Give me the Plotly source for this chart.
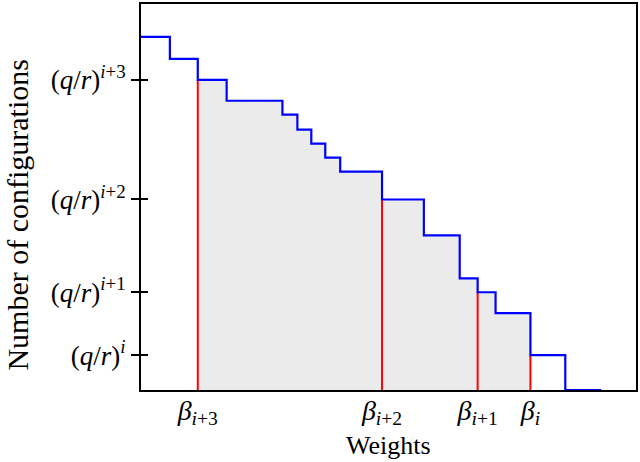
import plotly.graph_objects as go

# Step function: edges along the weight axis and the level on each interval
step_x = [0, 29, 57, 86, 142, 157, 171, 185, 200, 242, 284, 320, 338, 356, 391, 426, 462]
step_y = [354, 332, 311, 290, 276, 261, 247, 233, 219, 191, 155, 112, 98, 77, 35, 0, 0]

# Threshold weights (beta) and the count levels (q/r)^k at those weights
beta_x = [57, 242, 338, 391]
beta_y = [311, 191, 98, 35]
beta_labels = ["<i>β</i><sub><i>i</i>+3</sub>", "<i>β</i><sub><i>i</i>+2</sub>",
               "<i>β</i><sub><i>i</i>+1</sub>", "<i>β</i><sub><i>i</i></sub>"]
ytick_labels = ["(<i>q</i>/<i>r</i>)<sup><i>i</i>+3</sup>", "(<i>q</i>/<i>r</i>)<sup><i>i</i>+2</sup>",
                "(<i>q</i>/<i>r</i>)<sup><i>i</i>+1</sup>", "(<i>q</i>/<i>r</i>)<sup><i>i</i></sup>"]

X_RANGE = [0, 497]
Y_RANGE = [0, 387]
FONT = "Liberation Serif"

fig = go.Figure()

# grey fill between first and last beta
i0 = step_x.index(beta_x[0])
i1 = step_x.index(beta_x[-1])
fig.add_trace(go.Scatter(
    x=step_x[i0:i1 + 1], y=step_y[i0:i1 + 1], mode="lines", line=dict(shape="hv", width=0),
    fill="tozeroy", fillcolor="#ebebeb", hoverinfo="skip", showlegend=False))

# red vertical lines
rx, ry = [], []
for bx, by in zip(beta_x, beta_y):
    rx += [bx, bx, None]
    ry += [0, by, None]
fig.add_trace(go.Scatter(x=rx, y=ry, mode="lines", line=dict(color="#ff0000", width=2),
                         showlegend=False, hoverinfo="skip"))

# blue step line
fig.add_trace(go.Scatter(x=step_x, y=step_y, mode="lines",
                         line=dict(shape="hv", color="#0000ff", width=2.2),
                         showlegend=False, cliponaxis=False))

# invisible trace for the inner tick axis
fig.add_trace(go.Scatter(x=[None], y=[None], yaxis="y2", showlegend=False, hoverinfo="skip"))

fig.update_layout(
    width=640, height=462,
    margin=dict(l=141, r=2, t=3, b=72),
    paper_bgcolor="white", plot_bgcolor="white",
    font=dict(family=FONT, size=27, color="black"),
    xaxis=dict(range=X_RANGE, showgrid=False, zeroline=False, layer="below traces",
               showline=True, linecolor="black", linewidth=2, mirror=True,
               tickmode="array", tickvals=beta_x, ticktext=beta_labels,
               ticks="", ticklabelstandoff=-6, tickfont=dict(family=FONT, size=28)),
    yaxis=dict(range=Y_RANGE, showgrid=False, zeroline=False,
               showline=True, linecolor="black", linewidth=2, mirror=True,
               tickmode="array", tickvals=beta_y, ticktext=ytick_labels,
               ticks="outside", ticklen=8, tickwidth=2, tickcolor="black",
               tickfont=dict(family=FONT, size=27)),
    yaxis2=dict(range=Y_RANGE, overlaying="y", side="left", anchor="x",
                showgrid=False, zeroline=False, showline=False,
                tickmode="array", tickvals=beta_y, showticklabels=False,
                ticks="inside", ticklen=7, tickwidth=2, tickcolor="black"),
    annotations=[
        dict(text="Number of configurations", xref="paper", yref="paper",
             x=-0.25, y=0.455, xanchor="center", yanchor="middle",
             textangle=-90, showarrow=False,
             font=dict(family=FONT, size=30, color="black")),
        dict(text="Weights", xref="paper", yref="paper",
             x=0.5, y=-0.145, xanchor="center", yanchor="middle",
             showarrow=False, font=dict(family=FONT, size=26, color="black")),
    ],
)

fig.write_html("out.html")
